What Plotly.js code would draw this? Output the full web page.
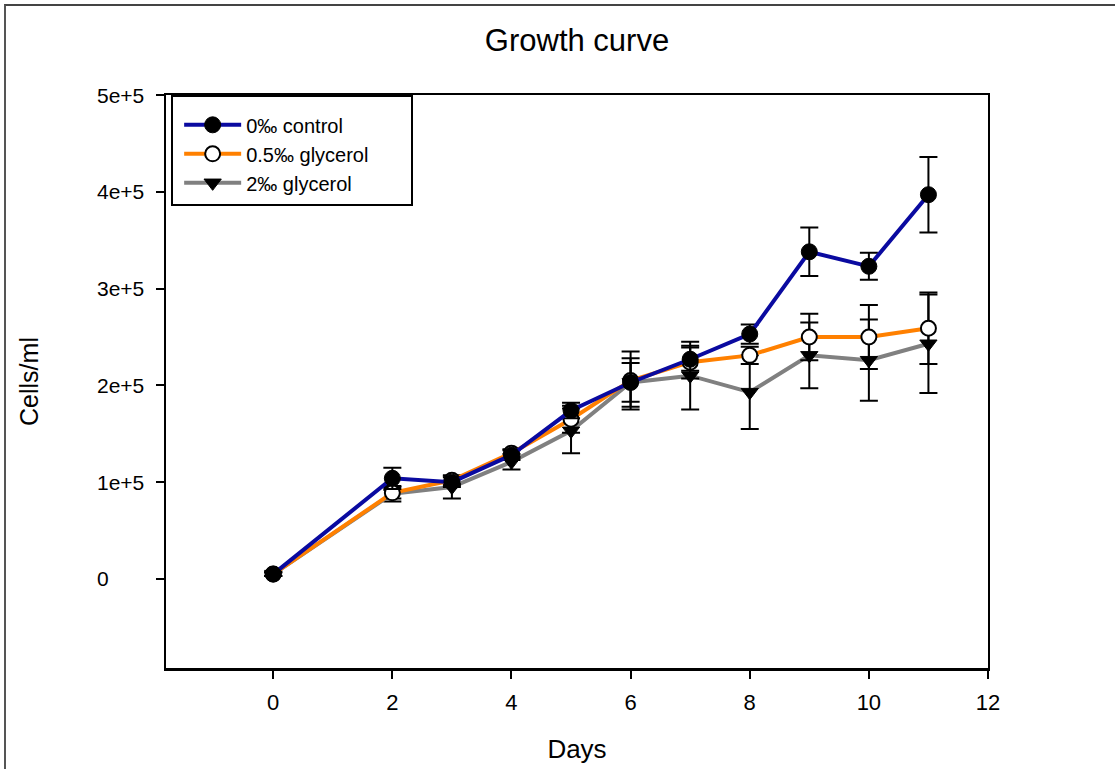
<!DOCTYPE html>
<html>
<head>
<meta charset="utf-8">
<script src="https://cdn.plot.ly/plotly-3.0.1.min.js"></script>
<style>
  html, body { margin: 0; padding: 0; background: #fff; overflow: hidden; }
  #chart { width: 1115px; height: 769px; }
  #frame { position: absolute; left: 4px; top: 4px; width: 3000px; height: 3000px;
           border-left: 2px solid #555; border-top: 2px solid #444; pointer-events: none; }
</style>
</head>
<body>
<div id="chart"></div>
<div id="frame"></div>
<script>
// ---- data ----
const days = [0, 2, 3, 4, 5, 6, 7, 8, 9, 10, 11];

const controlName = "0\u2030 control";
const control    = [5000, 104000, 100000, 128000, 174000, 203000, 227000, 253000, 338000, 323000, 397000];
const controlErr = [2000, 11000, 5000, 5000, 8000, 25000, 12000, 10000, 25000, 14000, 39000];

const glyc05Name = "0.5\u2030 glycerol";
const glyc05     = [5000, 89000, 102000, 130000, 165000, 205000, 224000, 231000, 250000, 250000, 259000];
const glyc05Err  = [2000, 6000, 5000, 4000, 14000, 30000, 17000, 9000, 24000, 33000, 37000];

const glyc2Name = "2\u2030 glycerol";
const glyc2     = [5000, 88000, 95000, 121000, 153000, 203000, 210000, 193000, 231000, 226000, 243000];
const glyc2Err  = [2000, 8000, 12000, 8000, 23000, 20000, 35000, 38000, 34000, 42000, 51000];

const xTickVals = [0, 2, 4, 6, 8, 10, 12];
const xTickText = ["0", "2", "4", "6", "8", "10", "12"];
const yTickVals = [0, 100000, 200000, 300000, 400000, 500000];
const yTickText = ["0", "1e+5", "2e+5", "3e+5", "4e+5", "5e+5"];

const titleText = "Growth curve";
const xTitle = "Days";
const yTitle = "Cells/ml";

// ---- styling ----
const FONT = "Arial, 'Liberation Sans', sans-serif";

function errBar(arr) {
  return { type: "data", array: arr, visible: true, color: "#000", thickness: 2, width: 9 };
}

const traces = [
  {
    x: days, y: glyc2, name: glyc2Name, type: "scatter", mode: "lines+markers",
    line: { color: "#808080", width: 4 },
    marker: { symbol: "triangle-down", size: 15, color: "#000", line: { color: "#000", width: 1 } },
    error_y: errBar(glyc2Err)
  },
  {
    x: days, y: glyc05, name: glyc05Name, type: "scatter", mode: "lines+markers",
    line: { color: "#ff8000", width: 4 },
    marker: { symbol: "circle", size: 15, color: "#fff", line: { color: "#000", width: 2 } },
    error_y: errBar(glyc05Err)
  },
  {
    x: days, y: control, name: controlName, type: "scatter", mode: "lines+markers",
    line: { color: "#0a0aa0", width: 4 },
    marker: { symbol: "circle", size: 16, color: "#000", line: { color: "#000", width: 1 } },
    error_y: errBar(controlErr)
  }
];

const annotations = yTickVals.map((v, i) => ({
  xref: "paper", yref: "y", x: -0.086, y: v, xanchor: "left", yanchor: "middle",
  text: yTickText[i], showarrow: false, font: { family: FONT, size: 21, color: "#000" }
}));

const layout = {
  width: 1115, height: 769,
  margin: { l: 166, r: 127, t: 95, b: 101, pad: 0 },
  paper_bgcolor: "#fff", plot_bgcolor: "#fff",
  showlegend: true,
  title: {
    text: titleText, font: { family: FONT, size: 31, color: "#000" },
    x: 0.5, xref: "paper", xanchor: "center", y: 1 - 40 / 769, yref: "container", yanchor: "middle"
  },
  xaxis: {
    range: [-1.8, 12], tickmode: "array", tickvals: xTickVals, ticktext: xTickText,
    showgrid: false, zeroline: false, showline: true, linecolor: "#000", linewidth: 2.5, mirror: true,
    ticks: "outside", ticklen: 8, tickwidth: 2, tickcolor: "#000", ticklabelstandoff: 5,
    tickfont: { family: FONT, size: 22, color: "#000" },
    title: { text: xTitle, font: { family: FONT, size: 26, color: "#000" }, standoff: 26 },
    automargin: false
  },
  yaxis: {
    range: [-92000, 500000], tickmode: "array", tickvals: yTickVals, ticktext: yTickText,
    showticklabels: false,
    showgrid: false, zeroline: false, showline: true, linecolor: "#000", linewidth: 2, mirror: true,
    ticks: "outside", ticklen: 8, tickwidth: 2, tickcolor: "#000",
    title: { text: yTitle, font: { family: FONT, size: 25, color: "#000" }, standoff: 110 },
    automargin: false
  },
  legend: {
    x: 0.016, y: 0.982, xanchor: "left", yanchor: "top", traceorder: "reversed",
    bgcolor: "rgba(255,255,255,0)", borderwidth: 0, itemwidth: 57,
    font: { family: FONT, size: 20, color: "#000" }, tracegroupgap: 0
  },
  shapes: [{
    type: "rect", xref: "paper", yref: "paper",
    x0: (172 - 166) / 822, x1: (412 - 166) / 822, y0: 1 - (205 - 95) / 573, y1: 1 - (96 - 95) / 573,
    line: { color: "#000", width: 2 }, fillcolor: "rgba(0,0,0,0)", layer: "above"
  }],
  annotations: annotations
};

Plotly.newPlot("chart", traces, layout, { displayModeBar: false, staticPlot: true });
</script>
</body>
</html>
